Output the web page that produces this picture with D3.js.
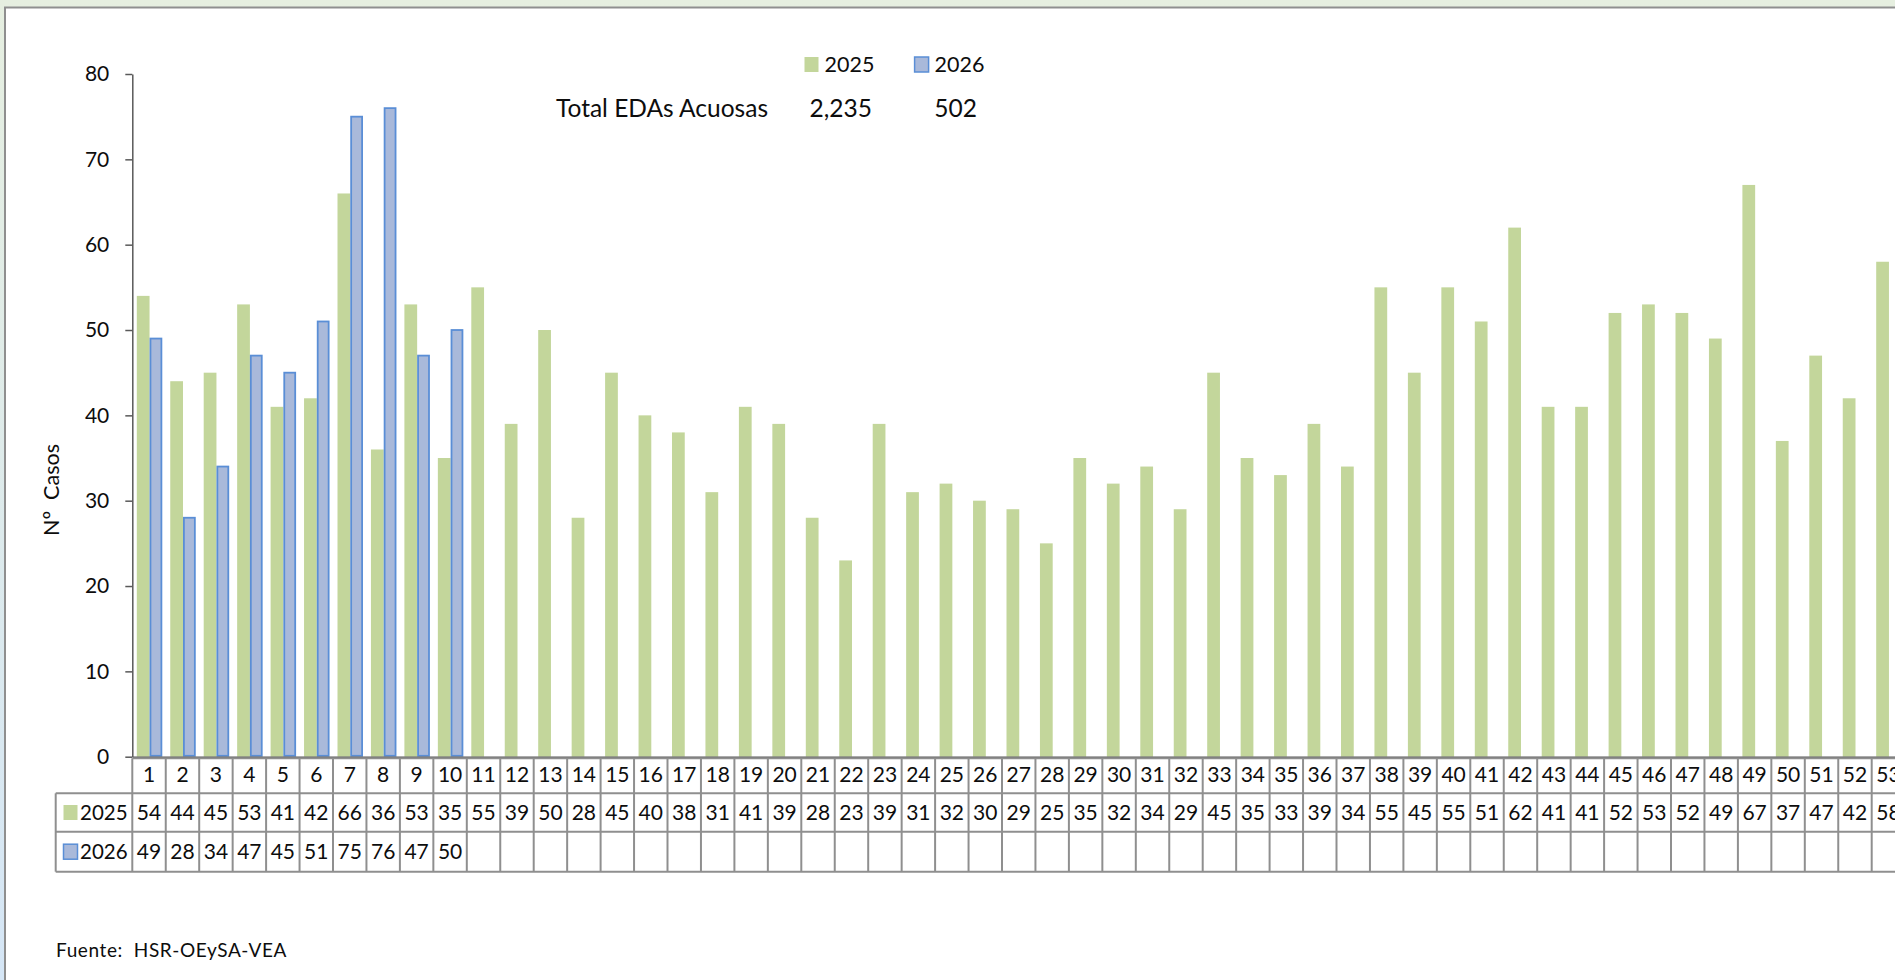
<!DOCTYPE html>
<html>
<head>
<meta charset="utf-8">
<script src="https://cdn.jsdelivr.net/npm/d3@7"></script>
<style>
  body { margin: 0; overflow: hidden; background: #fff; }
  svg { display: block; font-family: Lato, "Noto Sans", sans-serif; }
  text { fill: #0d0d0d; }
</style>
</head>
<body>
<svg id="chart" width="1895" height="980"></svg>
<script>
// semanas epidemiologicas
const semanas = ["1","2","3","4","5","6","7","8","9","10","11","12","13","14","15","16","17","18",
  "19","20","21","22","23","24","25","26","27","28","29","30","31","32","33","34","35","36",
  "37","38","39","40","41","42","43","44","45","46","47","48","49","50","51","52","53"];
const casos2025 = [54,44,45,53,41,42,66,36,53,35,55,39,50,28,45,40,38,31,41,39,28,23,39,31,32,30,
  29,25,35,32,34,29,45,35,33,39,34,55,45,55,51,62,41,41,52,53,52,49,67,37,47,42,58];
const casos2026 = [49,28,34,47,45,51,75,76,47,50];
const series = ["2025", "2026"];
const yTicks = [0, 10, 20, 30, 40, 50, 60, 70, 80];

const verde = "#C3D69B";
const azul = "#A9B9DA";
const azulBorde = "#5A8ED6";
const gris = "#8F8F8F";

const svg = d3.select("#chart");

// fondo y marco
const grad = svg.append("defs").append("linearGradient")
  .attr("id", "bg").attr("x1", 0).attr("y1", 0).attr("x2", 0).attr("y2", 1);
grad.append("stop").attr("offset", "0%").attr("stop-color", "#E6EFE0");
grad.append("stop").attr("offset", "100%").attr("stop-color", "#D5E6F6");
svg.append("rect").attr("width", 1895).attr("height", 980).attr("fill", "url(#bg)");
svg.append("rect")
  .attr("x", 5).attr("y", 7.5).attr("width", 1960).attr("height", 1000)
  .attr("fill", "#fff").attr("stroke", gris).attr("stroke-width", 2);

const left = 132.3;
const bandW = 33.45;
const x = d3.scaleBand().domain(semanas).range([left, left + bandW * semanas.length]);
const xs = d3.scaleBand().domain(series).range([4.5, 30]);
const y = d3.scaleLinear().domain([0, 80]).range([756.7, 74]);

// barras
const g = svg.append("g");
g.selectAll("rect.s2025")
  .data(casos2025)
  .join("rect")
  .attr("class", "s2025")
  .attr("x", (d, i) => x(semanas[i]) + xs("2025"))
  .attr("y", d => y(d))
  .attr("width", xs.bandwidth())
  .attr("height", d => y(0) - y(d))
  .attr("fill", verde);

g.selectAll("rect.s2026")
  .data(casos2026)
  .join("rect")
  .attr("class", "s2026")
  .attr("x", (d, i) => x(semanas[i]) + xs("2026") + 0.9)
  .attr("y", d => y(d))
  .attr("width", xs.bandwidth() - 1.8)
  .attr("height", d => y(0) - y(d) - 0.9)
  .attr("fill", azul)
  .attr("stroke", azulBorde)
  .attr("stroke-width", 1.8);

// eje Y
const yAxis = svg.append("g")
  .attr("transform", `translate(${left},0)`)
  .call(d3.axisLeft(y).tickValues(yTicks).tickSizeInner(7).tickSizeOuter(0).tickPadding(16));
yAxis.select(".domain").attr("stroke", "#595959").attr("stroke-width", 1.5);
yAxis.selectAll(".tick line").attr("stroke", "#595959").attr("stroke-width", 1.5);
yAxis.selectAll(".tick text").attr("font-size", 21).attr("fill", "#0d0d0d").attr("font-family", "Lato");

svg.append("text")
  .attr("transform", "translate(51,490) rotate(-90)")
  .attr("text-anchor", "middle")
  .attr("dy", "0.35em")
  .style("white-space", "pre")
  .attr("font-size", 21.5)
  .text("Nº  Casos");

// eje X (fila de semanas)
const xAxis = svg.append("g")
  .attr("transform", `translate(0,${y(0)})`)
  .call(d3.axisBottom(x).tickSizeInner(0).tickSizeOuter(0).tickPadding(10));
xAxis.select(".domain").attr("stroke", "#595959").attr("stroke-width", 1.5);
xAxis.selectAll(".tick text").attr("font-size", 21).attr("fill", "#0d0d0d").attr("font-family", "Lato");

// tabla de datos
const rows = [758.3, 793.3, 831.7, 871.7];
const tableLeft = 55.7;
const right = x.range()[1];
const t = svg.append("g").attr("stroke", gris).attr("stroke-width", 2);
t.append("line").attr("x1", left).attr("x2", right).attr("y1", rows[0]).attr("y2", rows[0]);
rows.slice(1).forEach(r => {
  t.append("line").attr("x1", tableLeft).attr("x2", right).attr("y1", r).attr("y2", r);
});
t.append("line").attr("x1", tableLeft).attr("x2", tableLeft).attr("y1", rows[1]).attr("y2", rows[3]);
t.selectAll("line.v")
  .data(semanas)
  .join("line")
  .attr("class", "v")
  .attr("x1", d => x(d)).attr("x2", d => x(d))
  .attr("y1", rows[0]).attr("y2", rows[3]);

const valores = [casos2025, casos2026];
valores.forEach((serie, k) => {
  const cy = (rows[k + 1] + rows[k + 2]) / 2;
  svg.append("g").selectAll("text")
    .data(serie)
    .join("text")
    .attr("x", (d, i) => x(semanas[i]) + x.bandwidth() / 2)
    .attr("y", cy)
    .attr("dy", "0.36em")
    .attr("text-anchor", "middle")
    .attr("font-size", 21)
    .text(d => d);

  // leyenda dentro de la tabla
  svg.append("rect")
    .attr("x", 63.5).attr("y", cy - 7.5)
    .attr("width", 14).attr("height", 15)
    .attr("fill", k === 0 ? verde : azul)
    .attr("stroke", k === 0 ? "none" : azulBorde)
    .attr("stroke-width", 1.5);
  svg.append("text")
    .attr("x", 80).attr("y", cy).attr("dy", "0.36em")
    .attr("font-size", 20.5)
    .text(series[k]);
});

// leyenda superior y totales
const legendX = [804.5, 914.6];
series.forEach((s, k) => {
  svg.append("rect")
    .attr("x", legendX[k]).attr("y", 57)
    .attr("width", 14).attr("height", 15)
    .attr("fill", k === 0 ? verde : azul)
    .attr("stroke", k === 0 ? "none" : azulBorde)
    .attr("stroke-width", 1.5);
  svg.append("text")
    .attr("x", legendX[k] + 20).attr("y", 71.5)
    .attr("font-size", 21.5)
    .text(s);
});

const totales = [d3.sum(casos2025), d3.sum(casos2026)];
svg.append("text")
  .attr("x", 556).attr("y", 117)
  .attr("font-size", 24.5)
  .text("Total EDAs Acuosas");
const totalX = [872, 977];
totales.forEach((v, k) => {
  svg.append("text")
    .attr("x", totalX[k]).attr("y", 117)
    .attr("text-anchor", "end")
    .attr("font-size", 24.5)
    .text(d3.format(",")(v));
});

svg.append("text")
  .attr("x", 56).attr("y", 957)
  .attr("font-size", 19)
  .attr("letter-spacing", 0.6)
  .style("white-space", "pre")
  .text("Fuente:  HSR-OEySA-VEA");
</script>
</body>
</html>
